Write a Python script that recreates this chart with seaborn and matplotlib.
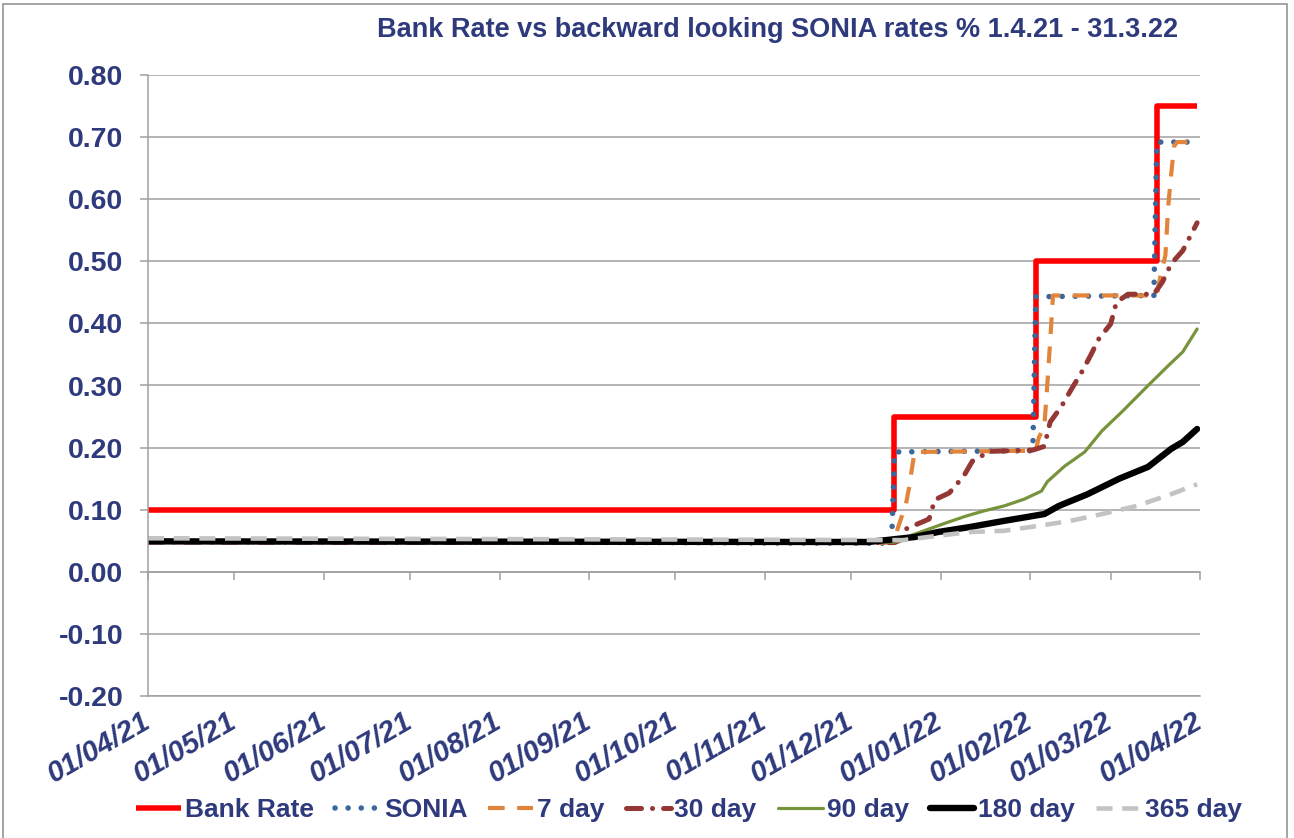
import matplotlib
matplotlib.use("Agg")
import matplotlib.pyplot as plt
import matplotlib.dates as mdates
import matplotlib.ticker as mticker
from matplotlib.patches import Rectangle
import seaborn as sns
import pandas as pd

# ---------------- data ----------------
bank_dates = ["2021-04-01", "2021-12-16", "2022-02-03", "2022-03-17", "2022-03-31"]
bank_vals = [0.10, 0.25, 0.50, 0.75, 0.75]

sonia_dates = ["2021-04-01", "2021-07-01", "2021-10-01", "2021-12-15", "2021-12-16",
               "2022-02-02", "2022-02-03", "2022-03-16", "2022-03-17", "2022-03-31"]
sonia_vals = [0.049, 0.048, 0.047, 0.046, 0.193, 0.195, 0.443, 0.445, 0.692, 0.692]

d7_dates = ["2021-04-01", "2021-12-16", "2021-12-17", "2021-12-20", "2021-12-21",
            "2021-12-22", "2021-12-23", "2022-02-03", "2022-02-04", "2022-02-06",
            "2022-02-07", "2022-02-08", "2022-02-09", "2022-03-17", "2022-03-18",
            "2022-03-20", "2022-03-21", "2022-03-22", "2022-03-23", "2022-03-24",
            "2022-03-31"]
d7_vals = [0.048, 0.047, 0.068, 0.110, 0.134, 0.165, 0.193, 0.195, 0.215, 0.235,
           0.300, 0.370, 0.445, 0.445, 0.470, 0.510, 0.590, 0.640, 0.685, 0.692,
           0.692]

d30_dates = ["2021-04-01", "2021-12-16", "2021-12-19", "2021-12-20", "2021-12-28",
             "2021-12-30", "2022-01-04", "2022-01-09", "2022-01-12", "2022-01-18",
             "2022-02-02", "2022-02-06", "2022-02-08", "2022-02-12", "2022-02-15",
             "2022-02-19", "2022-02-22", "2022-02-25", "2022-03-01", "2022-03-03",
             "2022-03-07", "2022-03-16", "2022-03-19", "2022-03-22", "2022-03-26",
             "2022-03-31"]
d30_vals = [0.048, 0.047, 0.053, 0.069, 0.085, 0.116, 0.127, 0.154, 0.178, 0.194,
            0.196, 0.202, 0.241, 0.267, 0.291, 0.322, 0.348, 0.376, 0.399, 0.434,
            0.447, 0.447, 0.467, 0.496, 0.517, 0.562]

d90_dates = ["2021-04-01", "2021-12-16", "2021-12-19", "2021-12-22", "2021-12-28",
             "2022-01-03", "2022-01-10", "2022-01-16", "2022-01-23", "2022-01-30",
             "2022-02-05", "2022-02-07", "2022-02-13", "2022-02-20", "2022-02-26",
             "2022-03-05", "2022-03-14", "2022-03-21", "2022-03-26", "2022-03-31"]
d90_vals = [0.048, 0.048, 0.052, 0.059, 0.069, 0.079, 0.090, 0.098, 0.106, 0.117,
            0.130, 0.145, 0.170, 0.193, 0.227, 0.258, 0.300, 0.332, 0.354, 0.391]

d180_dates = ["2021-04-01", "2021-12-07", "2021-12-23", "2021-12-31", "2022-01-11",
              "2022-01-23", "2022-02-06", "2022-02-11", "2022-02-21", "2022-03-04",
              "2022-03-14", "2022-03-22", "2022-03-26", "2022-03-31"]
d180_vals = [0.049, 0.048, 0.056, 0.064, 0.072, 0.082, 0.093, 0.106, 0.125, 0.150,
             0.169, 0.198, 0.209, 0.230]

d365_dates = ["2021-04-01", "2021-07-01", "2021-10-01", "2021-12-19", "2021-12-31",
              "2022-01-11", "2022-01-23", "2022-02-04", "2022-02-15", "2022-02-26",
              "2022-03-10", "2022-03-22", "2022-03-31"]
d365_vals = [0.054, 0.053, 0.052, 0.051, 0.058, 0.064, 0.066, 0.074, 0.082, 0.093,
             0.106, 0.125, 0.141]

series_names = ["Bank Rate", "SONIA", "7 day", "30 day", "90 day", "180 day", "365 day"]
title_text = "Bank Rate vs backward looking SONIA rates % 1.4.21 - 31.3.22"
y_ticks = [-0.20, -0.10, 0.00, 0.10, 0.20, 0.30, 0.40, 0.50, 0.60, 0.70, 0.80]
x_start, x_end = "2021-04-01", "2022-04-01"

# ---------------- styling ----------------
sns.set_theme(style="white")
plt.rcParams['font.family'] = ['Liberation Sans', 'DejaVu Sans']
NAVY = "#2E3A7C"
GRID = "#A0A0A0"

W, H = 1294, 838
fig = plt.figure(figsize=(W / 100, H / 100), dpi=100)
ax = fig.add_axes([148 / W, 1 - 696 / H, (1200 - 148) / W, (696 - 75) / H])

styles = [
    dict(color="#FF0000", linewidth=4.0, drawstyle="steps-post", solid_capstyle="butt"),
    dict(color="#3A679C", linewidth=4.0, linestyle=(0, (0.01, 2.35)), dash_capstyle="round"),
    dict(color="#E2843A", linewidth=3.0, linestyle=(0, (4.0, 3.0)), dash_capstyle="butt"),
    dict(color="#953735", linewidth=3.6, linestyle=(0, (3.0, 2.2, 0.01, 2.2)), dash_capstyle="round"),
    dict(color="#77933C", linewidth=2.3),
    dict(color="#000000", linewidth=4.6, solid_capstyle="round"),
    dict(color="#C3C3C3", linewidth=3.3, linestyle=(0, (3.5, 2.1)), dash_capstyle="butt"),
]
all_dates = [bank_dates, sonia_dates, d7_dates, d30_dates, d90_dates, d180_dates, d365_dates]
all_vals = [bank_vals, sonia_vals, d7_vals, d30_vals, d90_vals, d180_vals, d365_vals]

for name, dts, vals, st in zip(series_names, all_dates, all_vals, styles):
    df = pd.DataFrame({"date": pd.to_datetime(dts), "rate": vals})
    sns.lineplot(data=df, x="date", y="rate", ax=ax, label=name,
                 estimator=None, sort=False, legend=False, **st)

ax.set_xlim(pd.Timestamp(x_start), pd.Timestamp(x_end))
ax.set_ylim(-0.20, 0.80)
ax.set_yticks(y_ticks)
ax.yaxis.set_major_formatter(mticker.FormatStrFormatter("%.2f"))
ax.set_xlabel("")
ax.set_ylabel("")

ax.xaxis.set_major_locator(mdates.MonthLocator())
ax.xaxis.set_major_formatter(mdates.DateFormatter("%d/%m/%y"))

ax.grid(axis="y", color=GRID, linewidth=1.1)
ax.grid(axis="x", visible=False)
for s in ["top", "right"]:
    ax.spines[s].set_visible(False)
for s in ["left", "bottom"]:
    ax.spines[s].set_color(GRID)
    ax.spines[s].set_linewidth(1.1)

ax.tick_params(axis="y", which="major", direction="out", length=5.8, width=1.1,
               color=GRID, pad=12, labelsize=20.5, labelcolor=NAVY, left=True)
ax.tick_params(axis="x", which="major", length=0, pad=17, labelsize=21,
               labelcolor=NAVY, bottom=True)
for lab in ax.get_yticklabels():
    lab.set_fontweight("bold")
for lab in ax.get_xticklabels():
    lab.set_fontweight("bold")
    lab.set_fontstyle("italic")
    lab.set_rotation(30)
    lab.set_ha("right")
    lab.set_va("center")
    lab.set_rotation_mode("anchor")

# category axis crossing at y = 0 with outward tick marks
sec = ax.secondary_xaxis(0.2)
sec.xaxis.set_major_locator(mdates.MonthLocator())
sec.xaxis.set_major_formatter(mticker.NullFormatter())
sec.tick_params(axis="x", direction="out", length=5.8, width=1.1, color=GRID)
sec.spines["bottom"].set_color(GRID)
sec.spines["bottom"].set_linewidth(1.1)

fig.text(778 / W, 1 - 30 / H, title_text, ha="center", va="center",
         fontsize=19.5, fontweight="bold", color=NAVY)

handles = ax.get_lines()[:len(series_names)]
leg = fig.legend(handles, series_names, loc="center", bbox_to_anchor=(689 / W, 1 - 810 / H),
                 ncol=7, frameon=False, handlelength=1.7, handletextpad=0.15,
                 columnspacing=0.8, prop=dict(size=19, weight="bold"), labelcolor=NAVY)

fig.patches.append(Rectangle((3 / W, -0.01), (1287 - 3) / W, 1.01 - 4 / H,
                             transform=fig.transFigure, fill=False,
                             edgecolor="#8C8C8C", linewidth=1.1))

fig.savefig("out.png", dpi=100)
